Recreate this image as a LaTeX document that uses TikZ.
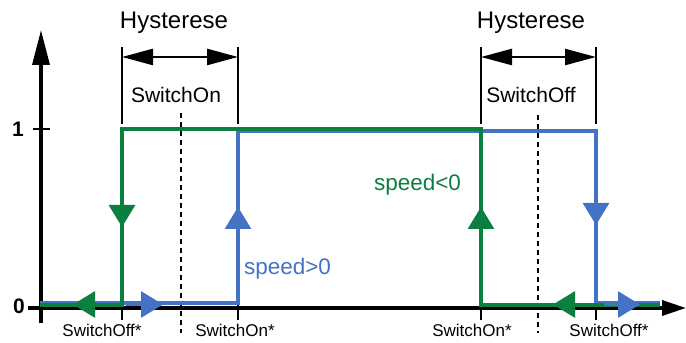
\documentclass[tikz,border=0pt]{standalone}
\usepackage{fontspec}
\setmainfont{Liberation Sans}
\usepackage{xcolor}
\usepackage{tikz}
\usetikzlibrary{arrows.meta}
\definecolor{cGreen}{HTML}{0A7F3F}
\definecolor{cBlue}{HTML}{4472C4}
\definecolor{cInk}{HTML}{000000}
\newcommand{\fs}[1]{\fontsize{#1}{#1}\selectfont}
\tikzset{
  axis/.style={line width=3.4pt,color=cInk},
  tck/.style={line width=2pt,color=cInk},
  brk/.style={line width=2.2pt,color=cInk},
  hys/.style={{Triangle[length=31pt,width=16pt]}-{Triangle[length=31pt,width=16pt]},line width=2.4pt,color=cInk},
  mid/.style={dash pattern=on 5pt off 4pt,line width=2.2pt,color=cInk},
  curve/.style={line width=3.2pt,color=#1,line join=miter},
  dirtip/.style={-{Triangle[length=22pt,width=26pt]},line width=3pt,color=#1},
  lbl/.style={inner sep=0pt,anchor=base,text=#1},
  lbl/.default=cInk,
}

\begin{document}
\begin{tikzpicture}[x=1pt,y=1pt]
    \useasboundingbox (0,0) rectangle (686,343);
    % axes
    \draw[axis,-{Triangle[length=35pt,width=17pt]}] (41,20) -- (41,313);
    \draw[axis,-{Triangle[length=24pt,width=15pt]}] (28,35) -- (686,35);
    \draw[tck] (33,214) -- (50,214);
    \foreach \xx in {122,238,481,596}
      \draw[tck] (\xx,38) -- (\xx,23);
    \node[lbl,font=\fs{21}\bfseries] (one) at (18,206) {1};
    \node[lbl,font=\fs{21}\bfseries] (zero) at (19,30) {0};
    % hysteresis brackets
    \draw[brk] (122,296) -- (122,219);
    \draw[brk] (238,296) -- (238,219);
    \draw[brk] (481,296) -- (481,219);
    \draw[brk] (596,296) -- (596,219);
    \draw[hys] (122,286) -- (238,286);
    \draw[hys] (481,286) -- (596,286);
    \node[lbl,font=\fs{24}] (hysL) at (174,314) {Hysterese};
    \node[lbl,font=\fs{24}] (hysR) at (531,314) {Hysterese};
    \node[lbl,font=\fs{21}] (swOn) at (176,240) {SwitchOn};
    \node[lbl,font=\fs{21}] (swOff) at (531,240) {SwitchOff};
    \draw[mid] (181,230) -- (181,10);
    \draw[mid] (538,228) -- (538,10);
    % speed>0
    \draw[curve=cBlue] (40,40) -- (238,40) -- (238,212) -- (596,212) -- (596,40) -- (660,40);
    % speed<0
    \draw[curve=cGreen] (40,38) -- (122,38) -- (122,214) -- (481,214) -- (481,38) -- (660,38);
    \draw[dirtip=cGreen] (122,150) -- (122,116);
    \draw[dirtip=cGreen] (481,100) -- (481,136);
    \draw[dirtip=cGreen] (110,38.5) -- (73,38.5);
    \draw[dirtip=cGreen] (590,38.5) -- (553,38.5);
    \draw[dirtip=cBlue] (238,100) -- (238,136);
    \draw[dirtip=cBlue] (596,150) -- (596,118);
    \draw[dirtip=cBlue] (126,38.5) -- (163,38.5);
    \draw[dirtip=cBlue] (604,38.5) -- (640,38.5);
    \node[lbl=cGreen,font=\fs{22.5}] (spNeg) at (417.5,152) {speed<0};
    \node[lbl=cBlue,font=\fs{22.5}] (spPos) at (287.5,68) {speed>0};
    % switch points
    \node[lbl,font=\fs{17}] (offL) at (102,6) {SwitchOff*};
    \node[lbl,font=\fs{17}] (onL) at (235,6) {SwitchOn*};
    \node[lbl,font=\fs{17}] (onR) at (472,6) {SwitchOn*};
    \node[lbl,font=\fs{17}] (offR) at (609,6) {SwitchOff*};
  \end{tikzpicture}
\end{document}
